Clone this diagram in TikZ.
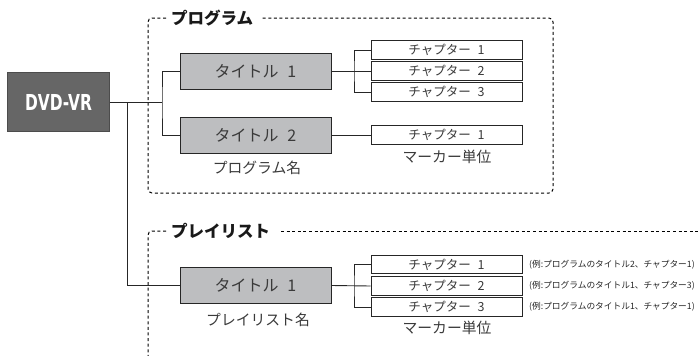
\documentclass[tikz,border=0pt]{standalone}
\usepackage{fontspec}
\setmainfont{Noto Sans CJK JP}
\newfontfamily\jp{Noto Sans CJK JP}
\newfontfamily\dvdfont{DejaVu Sans Condensed}
\definecolor{boxgray}{HTML}{BDBEC0}
\definecolor{darkbox}{HTML}{666666}
\definecolor{txtgray}{HTML}{3A3A3A}
\newcommand{\gap}{\hspace{0.55em}}
\tikzset{
  px/.style={x=1pt,y=-1pt},
  conn/.style={draw=black!85, line width=0.9pt},
  frame/.style={draw=black, line width=1pt, dash pattern=on 3pt off 2.6pt},
  rootbox/.style={draw=black!70, fill=darkbox, text=white, line width=0.8pt, minimum width=102pt, minimum height=59pt, inner sep=0pt, font=\dvdfont\bfseries\fontsize{22}{23}\selectfont},
  titlebox/.style={draw=black!85, fill=boxgray, text=txtgray, line width=0.9pt, minimum width=151pt, minimum height=36pt, inner sep=0pt, font=\jp\fontsize{16}{17}\selectfont},
  chapbox/.style={draw=black!85, fill=white, text=txtgray, line width=0.9pt, minimum width=151pt, minimum height=18.5pt, inner sep=0pt, font=\jp\fontsize{12.5}{13}\selectfont},
  sublabel/.style={text=txtgray, inner sep=0pt, font=\jp\fontsize{14.8}{15}\selectfont},
  seclabel/.style={fill=white, inner sep=0pt, text=black!90, font=\jp\bfseries\fontsize{16.5}{17}\selectfont},
  note/.style={anchor=west, inner sep=0pt, text=black!85, font=\jp\fontsize{8.7}{9}\selectfont},
}
\begin{document}
\begin{tikzpicture}[px]
\useasboundingbox (0,0) rectangle (699,356);
% frames
\draw[frame, rounded corners=4pt] (166,18) -- (148,18) -- (148,193) -- (553,193) -- (553,18) -- (262,18);
\node[seclabel, anchor=west] (secprog) at (171,18) {プログラム};
\draw[frame, rounded corners=4pt] (166,231) -- (148,231) -- (148,356);
\draw[frame] (281,231) -- (699,231);
\node[seclabel, anchor=west] (secpl) at (171,231) {プレイリスト};
% nodes
\node[rootbox] (dvd) at (58.5,102) {\scalebox{0.78}[1]{DVD-VR}};
\node[titlebox] (pt1) at (255.5,71) {タイトル\gap 1};
\node[titlebox] (pt2) at (255.5,135.5) {タイトル\gap 2};
\node[sublabel] (pname) at (257,168) {プログラム名};
\node[chapbox] (c11) at (446.5,50) {チャプター\gap 1};
\node[chapbox] (c12) at (446.5,71) {チャプター\gap 2};
\node[chapbox] (c13) at (446.5,92) {チャプター\gap 3};
\node[chapbox] (c21) at (446.5,135) {チャプター\gap 1};
\node[sublabel] (mk1) at (447,157) {マーカー単位};
\node[titlebox] (lt1) at (255.5,285.5) {タイトル\gap 1};
\node[sublabel] (lname) at (258,320) {プレイリスト名};
\node[chapbox] (l1) at (446.5,264.5) {チャプター\gap 1};
\node[chapbox] (l2) at (446.5,286) {チャプター\gap 2};
\node[chapbox] (l3) at (446.5,307) {チャプター\gap 3};
\node[sublabel] (mk2) at (447,328) {マーカー単位};
\node[note] (n1) at (529,264.5) {(例:プログラムのタイトル2、チャプター1)};
\node[note] (n2) at (529,286) {(例:プログラムのタイトル1、チャプター3)};
\node[note] (n3) at (529,307) {(例:プログラムのタイトル1、チャプター1)};
% connectors
\coordinate (jp) at (162,102);
\coordinate (jl) at (127,102);
\draw[conn] (dvd.east) -- (jp);
\draw[conn] (pt1.west) -| (jp) |- (pt2.west);
\draw[conn] (jl) |- (lt1.west);
\coordinate (j1) at (354,71);
\draw[conn] (pt1.east) -- (c12.west);
\draw[conn] (c11.west) -| (j1) |- (c13.west);
\draw[conn] (pt2.east) -- (pt2.east -| c21.west);
\coordinate (j2) at (354,286);
\draw[conn] (lt1.east) -- (l2.west);
\draw[conn] (l1.west) -| (j2) |- (l3.west);
\end{tikzpicture}
\end{document}
